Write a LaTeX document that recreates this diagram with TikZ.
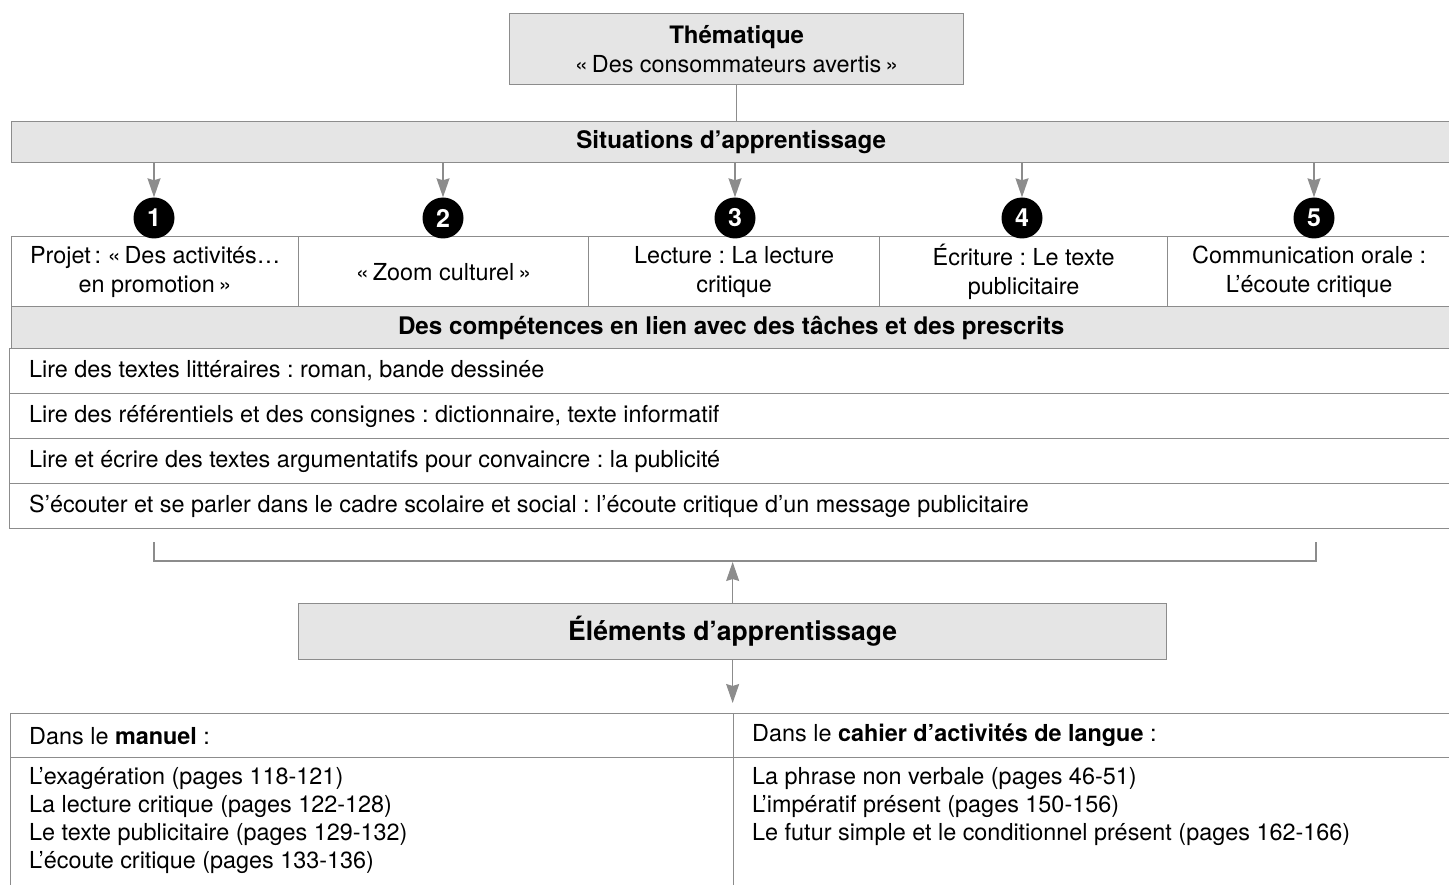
\documentclass[tikz,border=0pt]{standalone}
\usepackage{fontspec}
\setmainfont{TeX Gyre Heros}
\usetikzlibrary{arrows.meta}
\definecolor{lgray}{HTML}{8C8C8C}
\definecolor{fgray}{HTML}{E5E5E5}
\frenchspacing
\begin{document}
\begin{tikzpicture}[x=1pt,y=-1pt,
  ln/.style={draw=lgray, line width=1.3pt},
  graybox/.style={ln, fill=fgray, inner sep=0pt, anchor=north west},
  cellbox/.style={ln, fill=white, inner sep=0pt, anchor=north west},
  txt/.style={font=\fontsize{23.4}{29}\selectfont},
  hdr/.style={font=\bfseries\fontsize{24.2}{29}\selectfont},
  num/.style={circle, fill=black, inner sep=0pt, minimum size=41pt, text=white, font=\bfseries\fontsize{25}{25}\selectfont},
  arr/.style={draw=lgray, line width=1.3pt, -{Stealth[length=19pt,width=13pt,inset=2pt]}}
]
\useasboundingbox (0,0) rectangle (1449,885);
\clip (0,0) rectangle (1449,885);

% Thematique
\node[graybox, minimum width=454pt, minimum height=71pt, align=center, txt] (them) at (509,13)
  {{\bfseries\fontsize{24}{29}\selectfont Thématique}\\«\,Des consommateurs avertis\,»};

% Situations bar
\node[graybox, minimum width=1439pt, minimum height=41pt, hdr] (sit) at (11,121) {Situations d’apprentissage};
\draw[ln] (them.south) -- (them.south |- sit.north);

% cells
\node[cellbox, minimum width=287pt, minimum height=70pt, align=center, txt] (p1) at (11,236) {Projet\,: «\,Des activités…\\en promotion\,»};
\node[cellbox, minimum width=290pt, minimum height=70pt, align=center, txt] (p2) at (298,236) {«\,Zoom culturel\,»};
\node[cellbox, minimum width=291pt, minimum height=70pt, align=center, txt] (p3) at (588,236) {Lecture : La lecture\\critique};
\node[cellbox, minimum width=288pt, minimum height=70pt, align=center, txt] (p4) at (879,236) {Écriture : Le texte\\publicitaire};
\node[cellbox, minimum width=283pt, minimum height=70pt, align=center, txt] (p5) at (1167,236) {Communication orale :\\L’écoute critique};

% numbered circles
\node[num] (c1) at (154,218) {1};
\node[num] (c2) at (443,218) {2};
\node[num] (c3) at (735,218) {3};
\node[num] (c4) at (1022,218) {4};
\node[num] (c5) at (1314,218) {5};
\foreach \i in {1,...,5}{
  \draw[arr] (c\i.north |- sit.south) -- (c\i.north);
}

% competences
\node[graybox, minimum width=1439pt, minimum height=42pt, hdr] (comp) at (11,306) {Des compétences en lien avec des tâches et des prescrits};
\node[cellbox, minimum width=1441pt, minimum height=45pt] (r1) at (9,348) {};
\node[cellbox, minimum width=1441pt, minimum height=45pt] (r2) at (9,393) {};
\node[cellbox, minimum width=1441pt, minimum height=45pt] (r3) at (9,438) {};
\node[cellbox, minimum width=1441pt, minimum height=45pt] (r4) at (9,483) {};
\node[anchor=west, inner sep=0pt, txt] (t1) at ([xshift=20pt]r1.west) {Lire des textes littéraires : roman, bande dessinée};
\node[anchor=west, inner sep=0pt, txt] (t2) at ([xshift=20pt]r2.west) {Lire des référentiels et des consignes : dictionnaire, texte informatif};
\node[anchor=west, inner sep=0pt, txt] (t3) at ([xshift=20pt]r3.west) {Lire et écrire des textes argumentatifs pour convaincre : la publicité};
\node[anchor=west, inner sep=0pt, txt] (t4) at ([xshift=20pt]r4.west) {S’écouter et se parler dans le cadre scolaire et social : l’écoute critique d’un message publicitaire};

% bracket
\coordinate (bl) at (154,542);
\coordinate (bll) at (154,561);
\coordinate (brr) at (1316,561);
\coordinate (br) at (1316,542);
\draw[ln] (bl) -- (bll) -- (brr) -- (br);

% Elements
\node[graybox, minimum width=868pt, minimum height=56pt, font=\bfseries\fontsize{26.5}{30}\selectfont] (elem) at (298,603) {Éléments d’apprentissage};
\coordinate (up) at (elem.north |- bll);
\draw[arr] (elem.north) -- ([yshift=-1pt]up);

% bottom table
\node[cellbox, minimum width=723pt, minimum height=44pt] (mh) at (10,713) {};
\node[cellbox, minimum width=717pt, minimum height=44pt] (ch) at (733,713) {};
\node[cellbox, minimum width=723pt, minimum height=140pt] (mb) at (10,757) {};
\node[cellbox, minimum width=717pt, minimum height=140pt] (cb) at (733,757) {};
\draw[arr] (elem.south) -- ([yshift=10pt]elem.south |- mh.north);

\node[anchor=west, inner sep=0pt, txt] (mht) at ([xshift=19pt]mh.west) {Dans le \textbf{manuel} :};
\node[anchor=west, inner sep=0pt, txt] (cht) at ([xshift=19pt]ch.west) {Dans le \textbf{cahier d’activités de langue} :};
\node[anchor=north west, align=left, inner sep=0pt, font=\fontsize{23.4}{28}\selectfont] (mbt) at (29,767)
  {L’exagération (pages 118-121)\\La lecture critique (pages 122-128)\\Le texte publicitaire (pages 129-132)\\L’écoute critique (pages 133-136)};
\node[anchor=north west, align=left, inner sep=0pt, font=\fontsize{23.4}{28}\selectfont] (cbt) at (752,767)
  {La phrase non verbale (pages 46-51)\\L’impératif présent (pages 150-156)\\Le futur simple et le conditionnel présent (pages 162-166)};
\end{tikzpicture}
\end{document}
